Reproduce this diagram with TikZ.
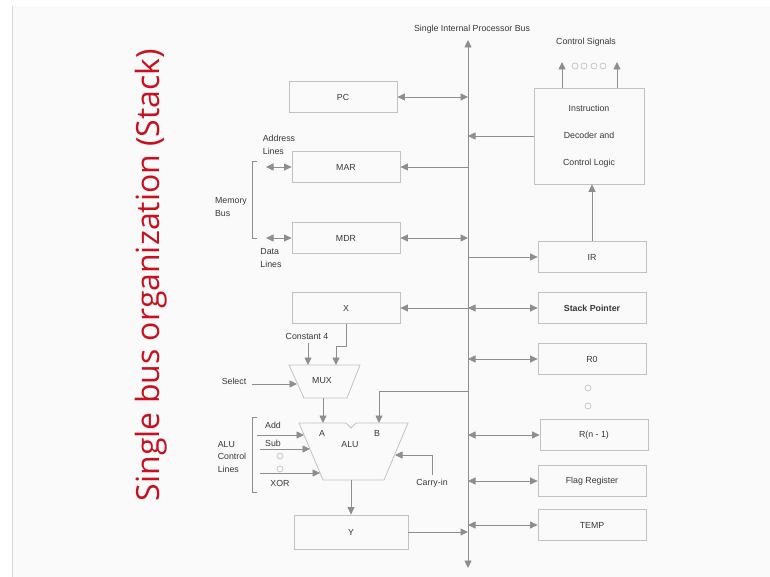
\documentclass[tikz,border=0pt]{standalone}
\usepackage{fontspec}
\setmainfont{Liberation Sans}
\newfontfamily\titlefont{Open Sans}
\usetikzlibrary{arrows.meta,positioning}
\definecolor{bggray}{HTML}{FAFAFA}
\definecolor{boxgray}{HTML}{C2C2C2}
\definecolor{linegray}{HTML}{8E8E8E}
\definecolor{textgray}{HTML}{383838}
\definecolor{titlered}{HTML}{C8101E}

\begin{document}
\begin{tikzpicture}[x=1pt, y=-1pt, >={Triangle[length=7.5pt,width=7pt]},
    font=\fontsize{8.8}{12.5}\selectfont, text=textgray,
    reg/.style = {draw=boxgray, line width=0.8pt, minimum width=108pt, minimum height=31pt, inner sep=0pt},
    wire/.style = {draw=linegray, line width=0.8pt},
    brace/.style = {draw=linegray, line width=0.6pt},
    lbl/.style = {align=left, inner sep=0pt},
    dot/.style = {draw=boxgray, circle, line width=0.7pt, minimum size=6pt, inner sep=0pt}]
    \useasboundingbox (0,0) rectangle (770,577);
    \fill[bggray] (12,6) rectangle (770,577);
    \draw[boxgray!60] (12,6) -- (12,577);

    \node[rotate=90, text=titlered, font=\titlefont\fontsize{32}{34}\selectfont] (title) at (151,275) {Single bus organization (Stack)};

    % bus
    \coordinate (bustop) at (468,40);
    \coordinate (busbot) at (468,568);
    \draw[wire,<->] (busbot) -- (bustop);
    \node (buslbl) at (472,29) {Single Internal Processor Bus};

    % registers
    \node[reg] (pc) at (343,97) {PC};
    \node[reg] (mar) at (346,167) {MAR};
    \node[reg] (mdr) at (346,238) {MDR};
    \node[reg] (xreg) at (346,308) {X};
    \node[reg, minimum width=114pt, minimum height=34pt] (yreg) at (351,532) {Y};
    \node[reg, minimum width=110pt, minimum height=96pt, align=center] (ctrl) at (589,136) {Instruction\\[14.5pt]Decoder and\\[14.5pt]Control Logic};
    \node[reg] (ir) at (592,257) {IR};
    \node[reg] (sp) at (592,308) {\bfseries Stack Pointer};
    \node[reg] (r0) at (592,359) {R0};
    \node[reg] (rn) at (594,435) {R(n - 1)};
    \node[reg] (flag) at (592,481) {Flag Register};
    \node[reg] (temp) at (592,525) {TEMP};
    \node[dot] (rd1) at (588,388) {};
    \node[dot] (rd2) at (588,406) {};

    \draw[wire,<->] (pc) -- (pc -| bustop);
    \draw[wire,->] (mar -| bustop) -- (mar);
    \draw[wire,<->] (mdr) -- (mdr -| bustop);
    \draw[wire,->] (xreg -| bustop) -- (xreg);
    \draw[wire,->] (ctrl) -- (ctrl -| bustop);
    \draw[wire,->] (ir -| bustop) -- (ir);
    \draw[wire,<->] (sp -| bustop) -- (sp);
    \draw[wire,<->] (r0 -| bustop) -- (r0);
    \draw[wire,<->] (rn -| bustop) -- (rn);
    \draw[wire,<->] (flag -| bustop) -- (flag);
    \draw[wire,<->] (temp -| bustop) -- (temp);
    \draw[wire,->] (yreg) -- (yreg -| bustop);
    \draw[wire,->] (ir.north) -- (ir.north |- ctrl.south);

    % control signals
    \node (cslbl) at (586,42) {Control Signals};
    \coordinate (cs1) at (562,62);
    \coordinate (cs2) at (617,62);
    \draw[wire,->] (ctrl.north -| cs1) -- (cs1);
    \draw[wire,->] (ctrl.north -| cs2) -- (cs2);
    \foreach \i/\px in {1/575,2/584,3/594,4/603}
        \node[dot] (csd\i) at (\px,66) {};

    % memory bus
    \coordinate (addr) at (266,167);
    \coordinate (data) at (266,238);
    \draw[wire,<->] (addr) -- (mar);
    \draw[wire,<->] (data) -- (mdr);
    \node[lbl] (addrlbl) at (279,145) {Address\\Lines};
    \node[lbl] (datalbl) at (271,258) {Data\\Lines};
    \node[lbl] (memlbl) at (231,207) {Memory\\Bus};
    \draw[brace] (257,161) -- (252,161) -- (252,238) -- (257,238);

    % mux
    \draw[boxgray, line width=0.8pt] (289,365) -- (360,365) -- (347,398) -- (304,398) -- cycle;
    \node (mux) at (322,381) {MUX};
    \node (const) at (307,336) {Constant 4};
    \node (sel) at (234,381) {Select};
    \coordinate (muxa) at (308,365);
    \coordinate (muxb) at (336,365);
    \coordinate (selfrom) at (252,384);
    \coordinate (selin) at (297,384);
    \coordinate (muxout) at (323,398);
    \draw[wire,->] (xreg.south) -- ++(0,22) -| (muxb);
    \draw[wire,->] (muxa |- const.south) -- (muxa);
    \draw[wire,->] (selfrom) -- (selin);

    % alu
    \draw[boxgray, line width=0.8pt] (299,423) -- (346,423) -- (351,428) -- (356,423) -- (408,423) -- (384,480) -- (323,480) -- cycle;
    \node (alu) at (350,445) {ALU};
    \node (porta) at (322,433) {A};
    \node (portb) at (377,433) {B};
    \coordinate (alua) at (323,423);
    \coordinate (alub) at (379,423);
    \coordinate (bjoin) at (468,391);
    \coordinate (cin) at (395,455);
    \coordinate (aluout) at (351,480);
    \draw[wire,->] (muxout) -- (alua);
    \draw[wire,->] (bjoin) -| (alub);
    \draw[wire,->] (aluout) -- (yreg);
    \node (carry) at (432,483) {Carry-in};
    \draw[wire,->] (carry.north) |- (cin);

    % alu control lines
    \node (add) at (273,425) {Add};
    \node (sub) at (273,443) {Sub};
    \node (xor) at (280,483) {XOR};
    \node[dot] (ad1) at (280,456) {};
    \node[dot] (ad2) at (280,469) {};
    \coordinate (addfrom) at (257,435);
    \coordinate (addin) at (304,435);
    \coordinate (subfrom) at (260,449);
    \coordinate (subin) at (310,449);
    \coordinate (xorfrom) at (260,473);
    \coordinate (xorin) at (320,473);
    \draw[wire,->] (addfrom) -- (addin);
    \draw[wire,->] (subfrom) -- (subin);
    \draw[wire,->] (xorfrom) -- (xorin);
    \node[lbl] (aluctl) at (232,457) {ALU\\Control\\Lines};
    \draw[brace] (257,417) -- (252,417) -- (252,492) -- (257,492);
\end{tikzpicture}
\end{document}
